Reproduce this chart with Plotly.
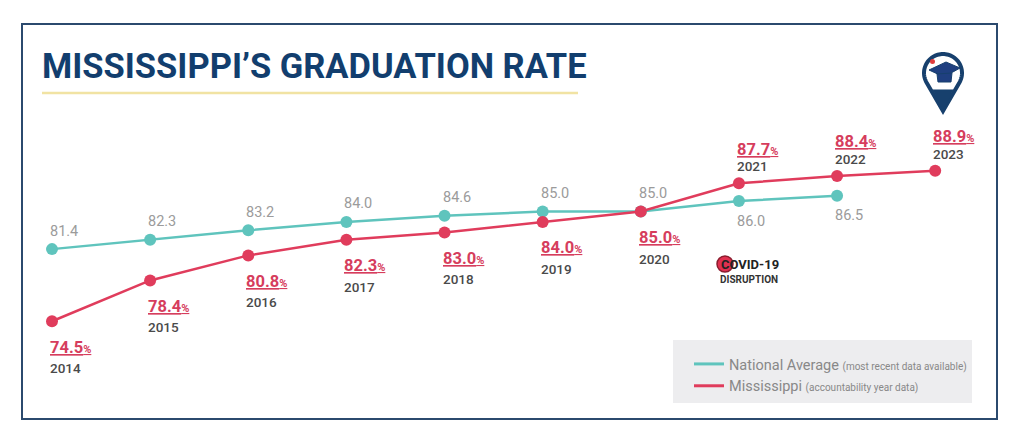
import plotly.graph_objects as go
import math

# ---- data ----
years = [2014, 2015, 2016, 2017, 2018, 2019, 2020, 2021, 2022, 2023]
mississippi = [74.5, 78.4, 80.8, 82.3, 83.0, 84.0, 85.0, 87.7, 88.4, 88.9]
nat_years = [2014, 2015, 2016, 2017, 2018, 2019, 2020, 2021, 2022]
national = [81.4, 82.3, 83.2, 84.0, 84.6, 85.0, 85.0, 86.0, 86.5]
title_text = "MISSISSIPPI\u2019S GRADUATION RATE"
legend_names = ["National Average", "Mississippi"]
legend_notes = ["(most recent data available)", "(accountability year data)"]

TEAL = "#5fc4bd"
RED = "#e03c5c"
NAVY = "#17406d"
OFF = 8  # page body margin
W, H = 1024 - OFF, 446 - OFF


def X(px):
    return (px - OFF) / W


def Y(py):
    return 1 - (py - OFF) / H


fig = go.Figure()

fig.add_trace(go.Scatter(
    x=nat_years, y=national, mode="lines+markers",
    line=dict(color=TEAL, width=2.5), marker=dict(size=12, color=TEAL),
    showlegend=False, hoverinfo="skip"))
fig.add_trace(go.Scatter(
    x=years, y=mississippi, mode="lines+markers",
    line=dict(color=RED, width=2.5), marker=dict(size=12, color=RED),
    showlegend=False, hoverinfo="skip"))

# legend entries (line only)
for name, note, col in zip(legend_names, legend_notes, [TEAL, RED]):
    fig.add_trace(go.Scatter(
        x=[None], y=[None], mode="lines", line=dict(color=col, width=3),
        name=f"{name} <span style='font-size:10px'>{note}</span>"))

ann = []
# national labels
for yr, v in zip(nat_years, national):
    above = yr <= 2020
    ann.append(dict(x=yr, y=v, xref="x", yref="y", text=f"{v:.1f}",
                    showarrow=False, xanchor="left", yanchor="middle",
                    xshift=-4, yshift=18 if above else -20,
                    font=dict(family="Roboto", size=14.5, color="#9b9b9b")))
# mississippi labels
for yr, v in zip(years, mississippi):
    below = yr <= 2020
    vs, ys = (-26, -47) if below else (34, 17)
    ann.append(dict(x=yr, y=v, xref="x", yref="y",
                    text=f"<b><u>{v:.1f}<span style='font-size:11px'>%</span></u></b>",
                    showarrow=False, xanchor="left", yanchor="middle",
                    xshift=-4, yshift=vs,
                    font=dict(family="Roboto", size=16.5, color="#d63d5d")))
    ann.append(dict(x=yr, y=v, xref="x", yref="y", text=str(yr),
                    showarrow=False, xanchor="left", yanchor="middle",
                    xshift=-4, yshift=ys,
                    font=dict(family="Roboto", size=13.5, color="#4a4a4a", weight=500)))

# title
ann.append(dict(x=X(40), y=Y(66), xref="paper", yref="paper", text=f"<b>{title_text}</b>",
                showarrow=False, xanchor="left", yanchor="middle",
                font=dict(family="Roboto", size=34.5, color="#123e6e")))

# covid
ann.append(dict(x=X(719), y=Y(264), xref="paper", yref="paper", text="<b>COVID-19</b>",
                showarrow=False, xanchor="left", yanchor="middle",
                font=dict(family="Roboto", size=13, color="#222222")))
ann.append(dict(x=X(718), y=Y(279), xref="paper", yref="paper", text="<b>DISRUPTION</b>",
                showarrow=False, xanchor="left", yanchor="middle",
                font=dict(family="Roboto", size=10, color="#333333")))

shapes = []
# frame
shapes.append(dict(type="rect", xref="paper", yref="paper", x0=X(22), x1=X(997), y0=Y(24), y1=Y(419),
                   line=dict(color="#2b4a6e", width=2), fillcolor="rgba(0,0,0,0)", layer="below"))
# yellow rule
shapes.append(dict(type="line", xref="paper", yref="paper", x0=X(42), x1=X(578), y0=Y(93), y1=Y(93),
                   line=dict(color="#f1e3a3", width=2.5)))
# legend box
shapes.append(dict(type="rect", xref="paper", yref="paper", x0=X(673), x1=X(972), y0=Y(340), y1=Y(403),
                   line=dict(width=0), fillcolor="#ededef", layer="below"))
# covid icon
shapes.append(dict(type="circle", xref="paper", yref="paper", x0=X(717), x1=X(733), y0=Y(256), y1=Y(272),
                   line=dict(color="#8a1d2e", width=1.5), fillcolor="#e0304f", layer="below"))

# pin icon
cx, cy, r, tip = 943, 73, 19, 111
d = tip - cy
th = math.degrees(math.acos(r / d))
pts = [(cx, tip)]
start = 90 + th
for k in range(0, 61):
    a = math.radians(start + k * (360 - 2 * th) / 60)
    pts.append((cx + r * math.cos(a), cy + r * math.sin(a)))
path = "M " + " L ".join(f"{X(px):.5f},{Y(py):.5f}" for px, py in pts) + " Z"
shapes.append(dict(type="path", xref="paper", yref="paper", path=path,
                   line=dict(color=NAVY, width=4), fillcolor="white"))
tri = [(cx - 10, cy + 17), (cx + 10, cy + 17), (cx, tip)]
shapes.append(dict(type="path", xref="paper", yref="paper",
                   path="M " + " L ".join(f"{X(px):.5f},{Y(py):.5f}" for px, py in tri) + " Z",
                   line=dict(color=NAVY, width=1), fillcolor=NAVY))
# mortarboard
cap = [(929, 70), (946, 62), (960, 68), (944, 77)]
shapes.append(dict(type="path", xref="paper", yref="paper",
                   path="M " + " L ".join(f"{X(px):.5f},{Y(py):.5f}" for px, py in cap) + " Z",
                   line=dict(color=NAVY, width=1), fillcolor="#1f3f80"))
base = [(937, 74), (952, 73), (951, 82), (938, 82)]
shapes.append(dict(type="path", xref="paper", yref="paper",
                   path="M " + " L ".join(f"{X(px):.5f},{Y(py):.5f}" for px, py in base) + " Z",
                   line=dict(color=NAVY, width=1), fillcolor="#1f3f80"))
shapes.append(dict(type="circle", xref="paper", yref="paper", x0=X(930), x1=X(935), y0=Y(59), y1=Y(64),
                   line=dict(width=0), fillcolor="#e03c3c"))

fig.update_layout(
    width=W, height=H,
    margin=dict(l=0, r=0, t=0, b=0),
    paper_bgcolor="white", plot_bgcolor="white",
    xaxis=dict(range=[2013.5516, 2023.905], visible=False, fixedrange=True),
    yaxis=dict(range=[62.56, 104.474], visible=False, fixedrange=True),
    annotations=ann, shapes=shapes,
    showlegend=True,
    legend=dict(x=X(689), y=Y(348), xanchor="left", yanchor="top",
                bgcolor="rgba(0,0,0,0)", font=dict(family="Roboto", size=14.5, color="#888888"),
                tracegroupgap=0, itemclick=False, itemdoubleclick=False),
)

fig.write_html("out.html")
